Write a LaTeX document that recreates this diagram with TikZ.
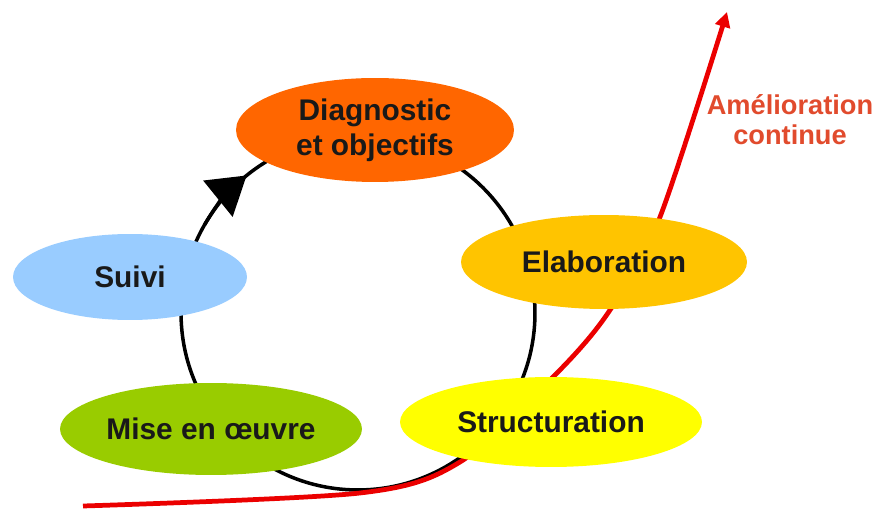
\documentclass[tikz,border=0pt]{standalone}
\usepackage{fontspec}
\setmainfont{Liberation Sans}
\usepackage{xcolor}
\usetikzlibrary{shapes.geometric,arrows.meta}
\definecolor{CycleOrange}{RGB}{255, 102, 0}
\definecolor{CycleGold}{RGB}{255, 196, 0}
\definecolor{CycleBlue}{RGB}{153, 204, 255}
\definecolor{CycleGreen}{RGB}{153, 204, 0}
\definecolor{CycleYellow}{RGB}{255, 255, 0}
\definecolor{CycleRed}{RGB}{235, 0, 0}
\definecolor{CycleLabel}{RGB}{225, 75, 45}

\pgfdeclarelayer{background}
\pgfsetlayers{background,main}

\begin{document}
\begin{tikzpicture}[x=0.02cm, y=0.02cm,
  phase/.style={ellipse, inner sep=0pt, align=center, text=black!90,
    font=\fontsize{17}{20}\selectfont\bfseries}]

\useasboundingbox (0,0) rectangle (875,510);

% Phases of the cycle
\node[phase, fill=CycleOrange, minimum width=5.56cm, minimum height=2.08cm] (diag) at (375,380) {Diagnostic\\et objectifs};
\node[phase, fill=CycleGold, minimum width=5.72cm, minimum height=1.88cm] (elab) at (604,248) {Elaboration};
\node[phase, fill=CycleYellow, minimum width=6.04cm, minimum height=1.80cm] (struct) at (551,88) {Structuration};
\node[phase, fill=CycleGreen, minimum width=6.04cm, minimum height=1.84cm] (mise) at (211,81) {Mise en œuvre};
\node[phase, fill=CycleBlue, minimum width=4.68cm, minimum height=1.72cm] (suivi) at (130,233) {Suivi};

% Label of the rising curve
\node[font=\fontsize{15.5}{17}\selectfont\bfseries, text=CycleLabel, align=center] (amelio) at (790,390) {Amélioration\\continue};

% End points of the rising curve
\coordinate (riseStart) at (83,4);
\coordinate (riseTip) at (727,498);

\begin{pgfonlayer}{background}
% Cycle circle
\draw[line width=2pt] (358,197) circle (3.54cm);
\draw[line width=2pt, -{Triangle[length=0.74cm, width=0.92cm]}] (358,197) ++(150:3.54cm) arc (150:129:3.54cm);

% Continuous improvement curve
\draw[CycleRed, line width=2.7pt, -{Triangle[length=0.3cm, width=0.3cm]}] plot [smooth] coordinates {(riseStart) (360,17) (460,48) (557,137) (610,200) (660,293) (riseTip)};
\end{pgfonlayer}

\end{tikzpicture}
\end{document}
